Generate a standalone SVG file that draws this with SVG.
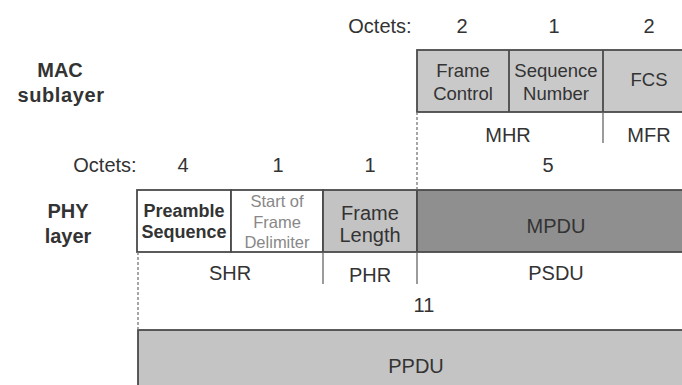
<svg xmlns="http://www.w3.org/2000/svg" width="682" height="385" viewBox="0 0 682 385">
<style>
text{font-family:"Liberation Sans",Arial,sans-serif;fill:#333;text-anchor:middle}
.t{font-size:20px}
.f{font-size:18.5px}
.b{font-size:20px;font-weight:bold}
.p{font-size:18px;font-weight:bold}
.s{font-size:16.5px;fill:#888}
.box{stroke:#4a4a4a;stroke-width:1.8}
.sep{stroke:#666;stroke-width:1.3}
.dash{stroke:#777;stroke-width:1.3;stroke-dasharray:3,2}
</style>
<rect width="682" height="385" fill="#fff"/>
<g id="labels">
<text class="b" x="60" y="77">MAC</text>
<text class="b" x="61" y="102" letter-spacing="0.6">sublayer</text>
<text class="b" x="68" y="218">PHY</text>
<text class="b" x="68" y="243">layer</text>
<text class="t" x="380" y="33">Octets:</text>
<text class="t" x="462" y="33">2</text>
<text class="t" x="554" y="33">1</text>
<text class="t" x="649" y="33">2</text>
<text class="t" x="105" y="172">Octets:</text>
<text class="t" x="183" y="172">4</text>
<text class="t" x="278" y="172">1</text>
<text class="t" x="370" y="172">1</text>
<text class="t" x="548" y="172">5</text>
<text class="t" x="424" y="312">11</text>
</g>
<g id="mac-frame">
<rect class="box" x="417" y="50" width="270" height="62" fill="#c9c9c9"/>
<line class="box" x1="509" y1="50" x2="509" y2="112"/>
<line class="box" x1="603" y1="50" x2="603" y2="112"/>
<text class="f" x="463" y="77">Frame</text>
<text class="f" x="463" y="100">Control</text>
<text class="f" x="556" y="77">Sequence</text>
<text class="f" x="556" y="100">Number</text>
<text class="f" x="649" y="86">FCS</text>
</g>
<g id="mac-groups">
<text class="t" x="508" y="142">MHR</text>
<text class="t" x="649" y="142">MFR</text>
</g>
<g id="phy-frame">
<rect class="box" x="137" y="190" width="94" height="62" fill="#fff"/>
<rect class="box" x="231" y="190" width="92" height="62" fill="#fff"/>
<rect class="box" x="323" y="190" width="94" height="62" fill="#c3c3c3"/>
<rect class="box" x="417" y="190" width="270" height="62" fill="#8f8f8f"/>
<text class="p" x="184" y="217">Preamble</text>
<text class="p" x="184" y="238">Sequence</text>
<text class="s" x="277" y="207">Start of</text>
<text class="s" x="277" y="228">Frame</text>
<text class="s" x="277" y="248">Delimiter</text>
<text class="t" x="370" y="220">Frame</text>
<text class="t" x="370" y="242">Length</text>
<text class="t" x="556" y="233">MPDU</text>
</g>
<g id="phy-groups">
<text class="t" x="230" y="280">SHR</text>
<text class="t" x="370" y="282">PHR</text>
<text class="t" x="556" y="280">PSDU</text>
</g>
<g id="ppdu">
<rect class="box" x="138" y="330" width="550" height="60" fill="#c4c4c4"/>
<text class="t" x="416" y="373">PPDU</text>
</g>
<g id="connectors">
<line class="dash" x1="417" y1="112" x2="417" y2="190"/>
<line class="sep" x1="603" y1="112" x2="603" y2="143"/>
<line class="dash" x1="138" y1="252" x2="138" y2="330"/>
<line class="sep" x1="323" y1="252" x2="323" y2="284"/>
<line class="sep" x1="417" y1="252" x2="417" y2="284"/>
</g>
</svg>
